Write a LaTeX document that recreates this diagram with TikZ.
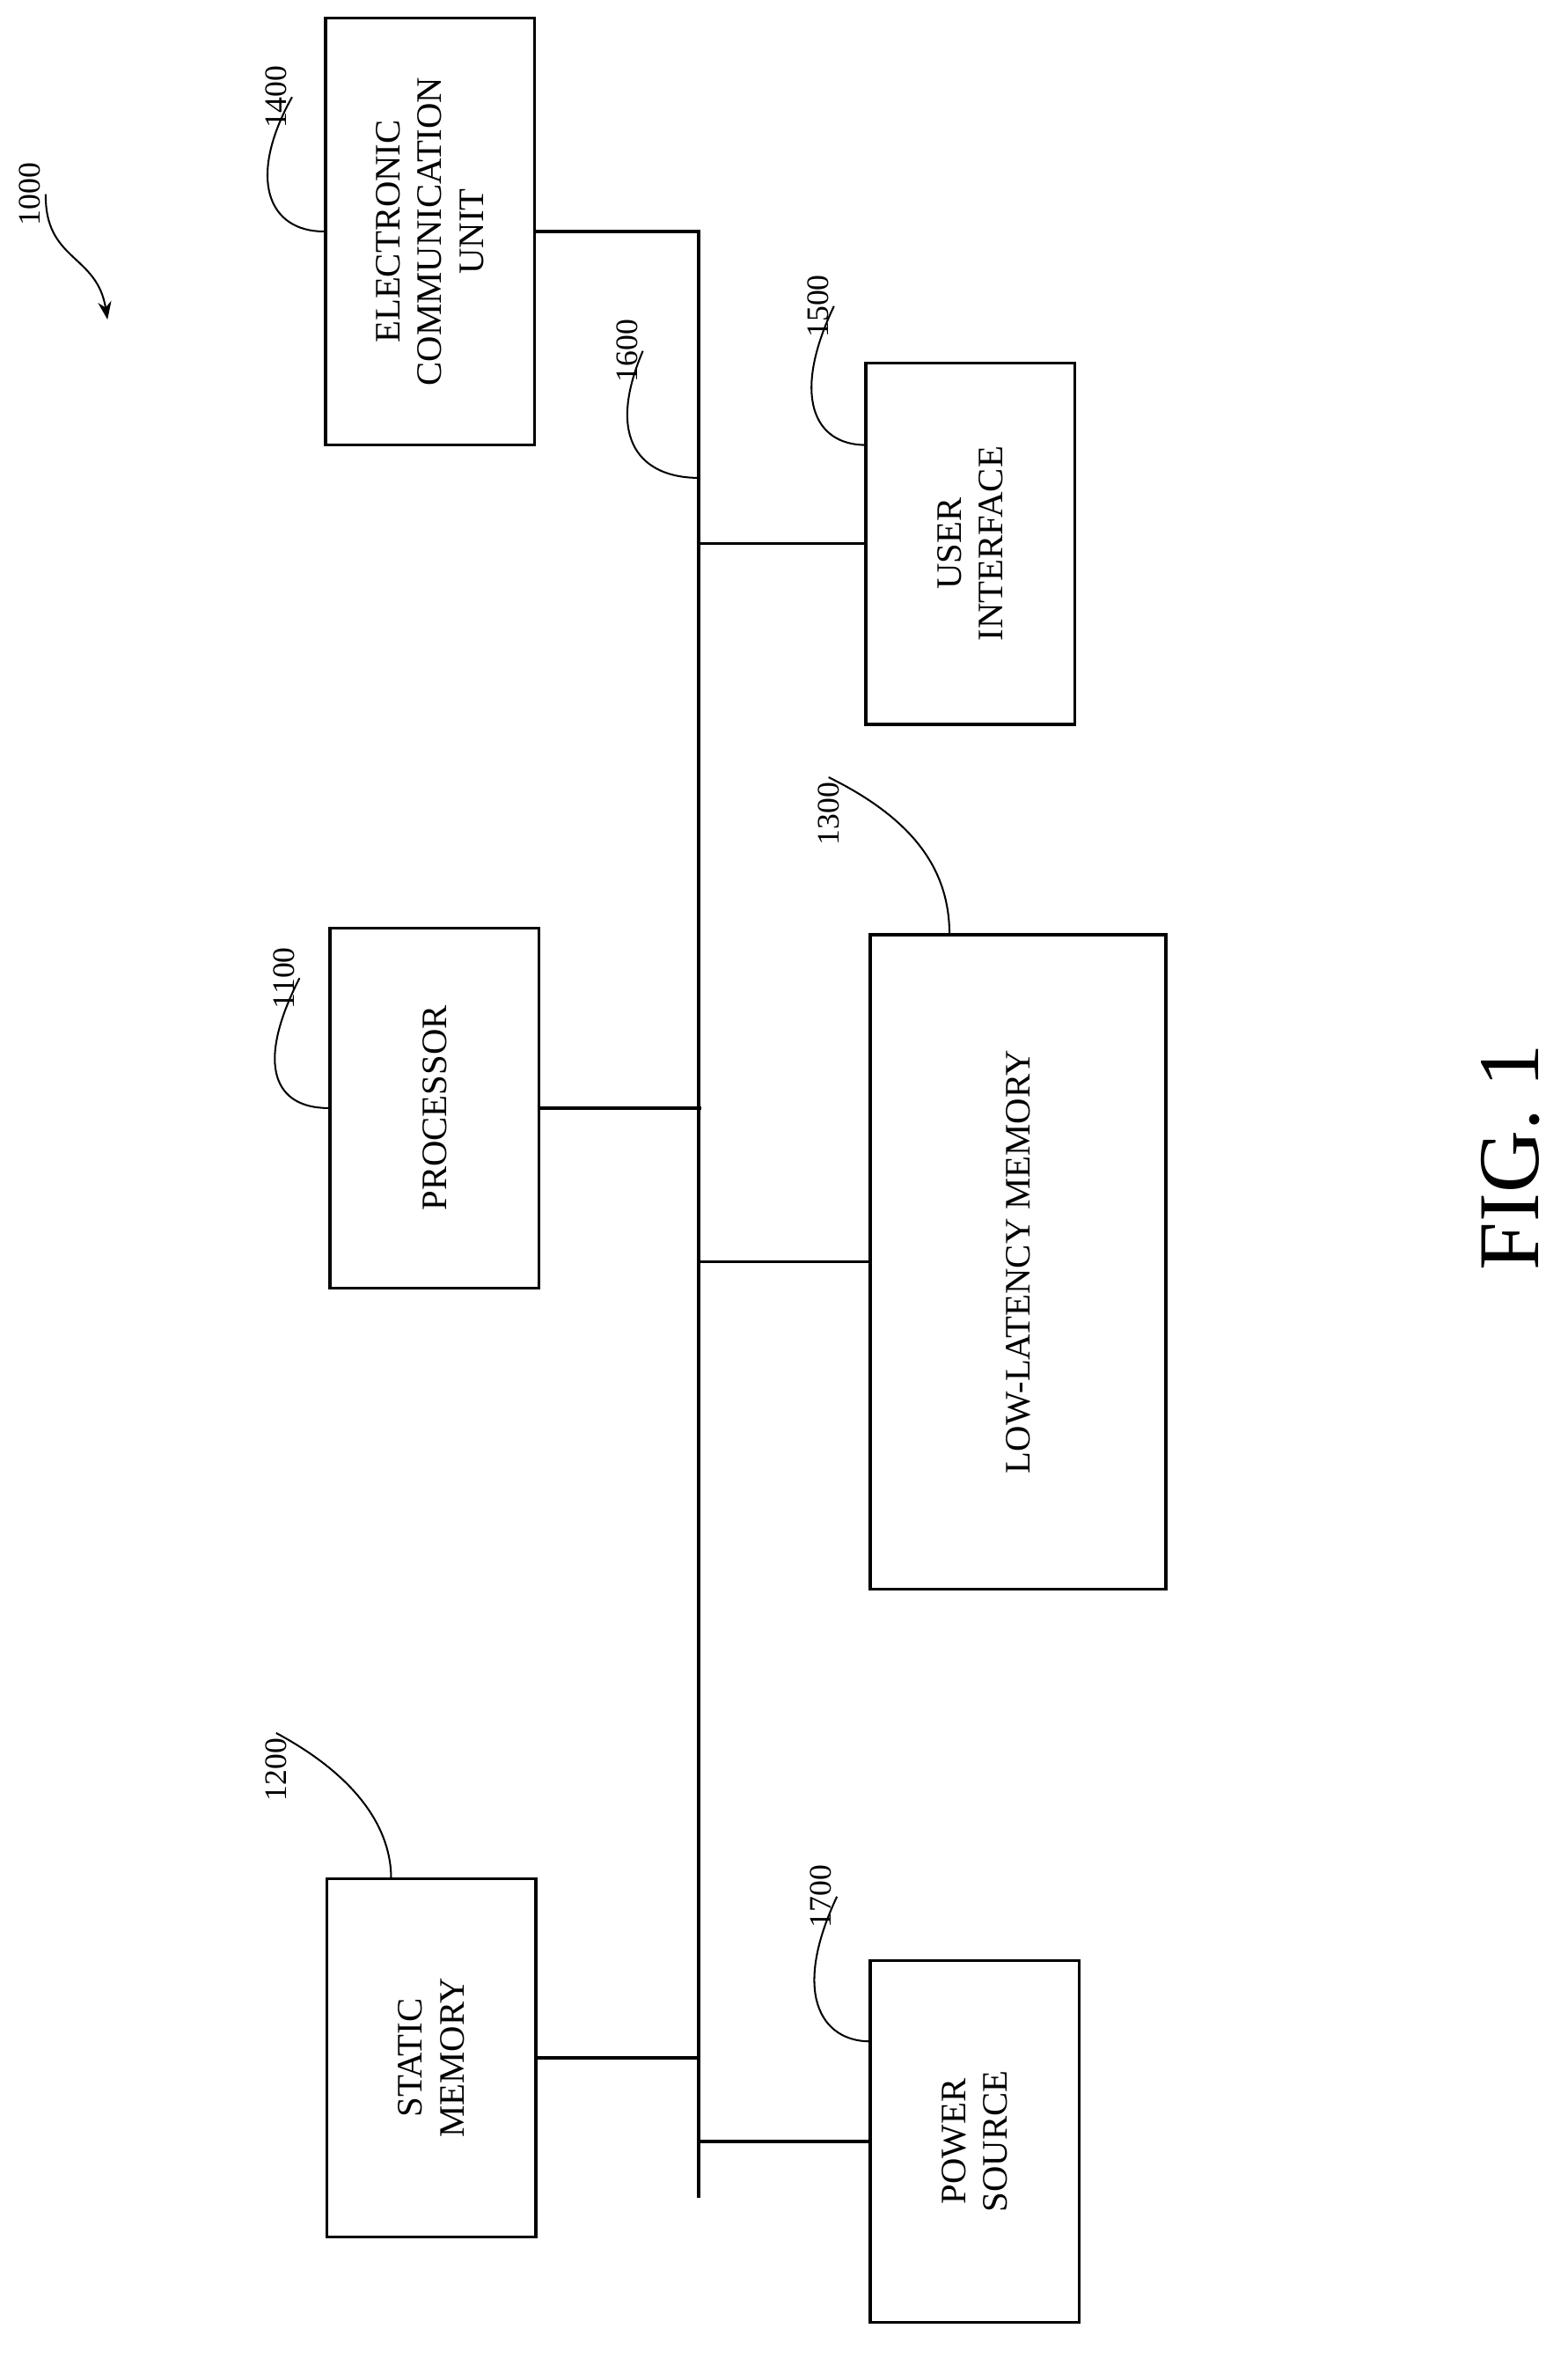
\documentclass[tikz,border=0pt]{standalone}
\usepackage{fontspec}
\setmainfont{Liberation Serif}
\usetikzlibrary{positioning,arrows.meta}
\begin{document}
\begin{tikzpicture}
[x=1pt,y=-1pt,
 block/.style={draw,line width=2pt,inner sep=0pt,font=\fontsize{24}{28}\selectfont,align=center},
 bus/.style={line width=2pt},
 ref/.style={font=\fontsize{21}{24}\selectfont,rotate=90},
 lead/.style={line width=1.2pt}]
\useasboundingbox (0,0) rectangle (1050,1579);
% blocks
\node[block,minimum width=140,minimum height=286] (ecu) at (288,155) {};
\node[rotate=90,font=\fontsize{24}{28}\selectfont,align=center] at (ecu) {ELECTRONIC\\COMMUNICATION\\UNIT};
\node[block,minimum width=140,minimum height=242] (ui) at (650,364) {};
\node[rotate=90,font=\fontsize{24}{28}\selectfont,align=center] at (ui) {USER\\INTERFACE};
\node[block,minimum width=140,minimum height=241] (proc) at (291,742) {};
\node[rotate=90,font=\fontsize{24}{28}\selectfont] at (proc) {PROCESSOR};
\node[block,minimum width=198,minimum height=438] (llm) at (682,845) {};
\node[rotate=90,font=\fontsize{24}{28}\selectfont] at (llm) {LOW-LATENCY MEMORY};
\node[block,minimum width=140,minimum height=240] (smem) at (289,1378) {};
\node[rotate=90,font=\fontsize{24}{28}\selectfont,align=center] at (smem) {STATIC\\MEMORY};
\node[block,minimum width=140,minimum height=242] (pwr) at (653,1434) {};
\node[rotate=90,font=\fontsize{24}{28}\selectfont,align=center] at (pwr) {POWER\\SOURCE};
% bus
\coordinate (bt) at (468,155);
\coordinate (bb) at (468,1472);
\draw[bus] (ecu.east) -- (bt) -- (bb);
\draw[bus] (ui.west) -- (468,364);
\draw[bus] (proc.east) -- (470,742);
\draw[bus] (llm.west) -- (468,845);
\draw[bus] (smem.east) -- (468,1378);
\draw[bus] (pwr.west) -- (468,1434);
% reference numerals
\node[ref] (n1400) at (185,65) {1400};
\draw[lead] (n1400.south) .. controls (165,120) and (180,155) .. (ecu.west);
\node[ref] (n1500) at (548,205) {1500};
\draw[lead] (n1500.south) .. controls (530,265) and (545,298) .. (580,298);
\node[ref] (n1600) at (420,235) {1600};
\draw[lead] (n1600.south) .. controls (405,295) and (430,320) .. (468,320);
\node[ref] (n1300) at (555,545) {1300};
\draw[lead] (n1300.east) .. controls (615,550) and (636,585) .. (636,626);
\node[ref] (n1100) at (190,655) {1100};
\draw[lead] (n1100.south) .. controls (170,715) and (185,742) .. (proc.west);
\node[ref] (n1200) at (185,1185) {1200};
\draw[lead] (n1200.east) .. controls (240,1190) and (262,1225) .. (262,1258);
\node[ref] (n1700) at (550,1270) {1700};
\draw[lead] (n1700.south) .. controls (530,1335) and (550,1367) .. (583,1367);
\node[ref] (n1000) at (20,130) {1000};
\draw[lead,-{Stealth[length=12pt,width=9pt]}] (n1000.south) .. controls (30,175) and (65,170) .. (72,214);
\node[rotate=90,font=\fontsize{58}{64}\selectfont] (fig) at (1012,775) {FIG. 1};
\end{tikzpicture}
\end{document}
